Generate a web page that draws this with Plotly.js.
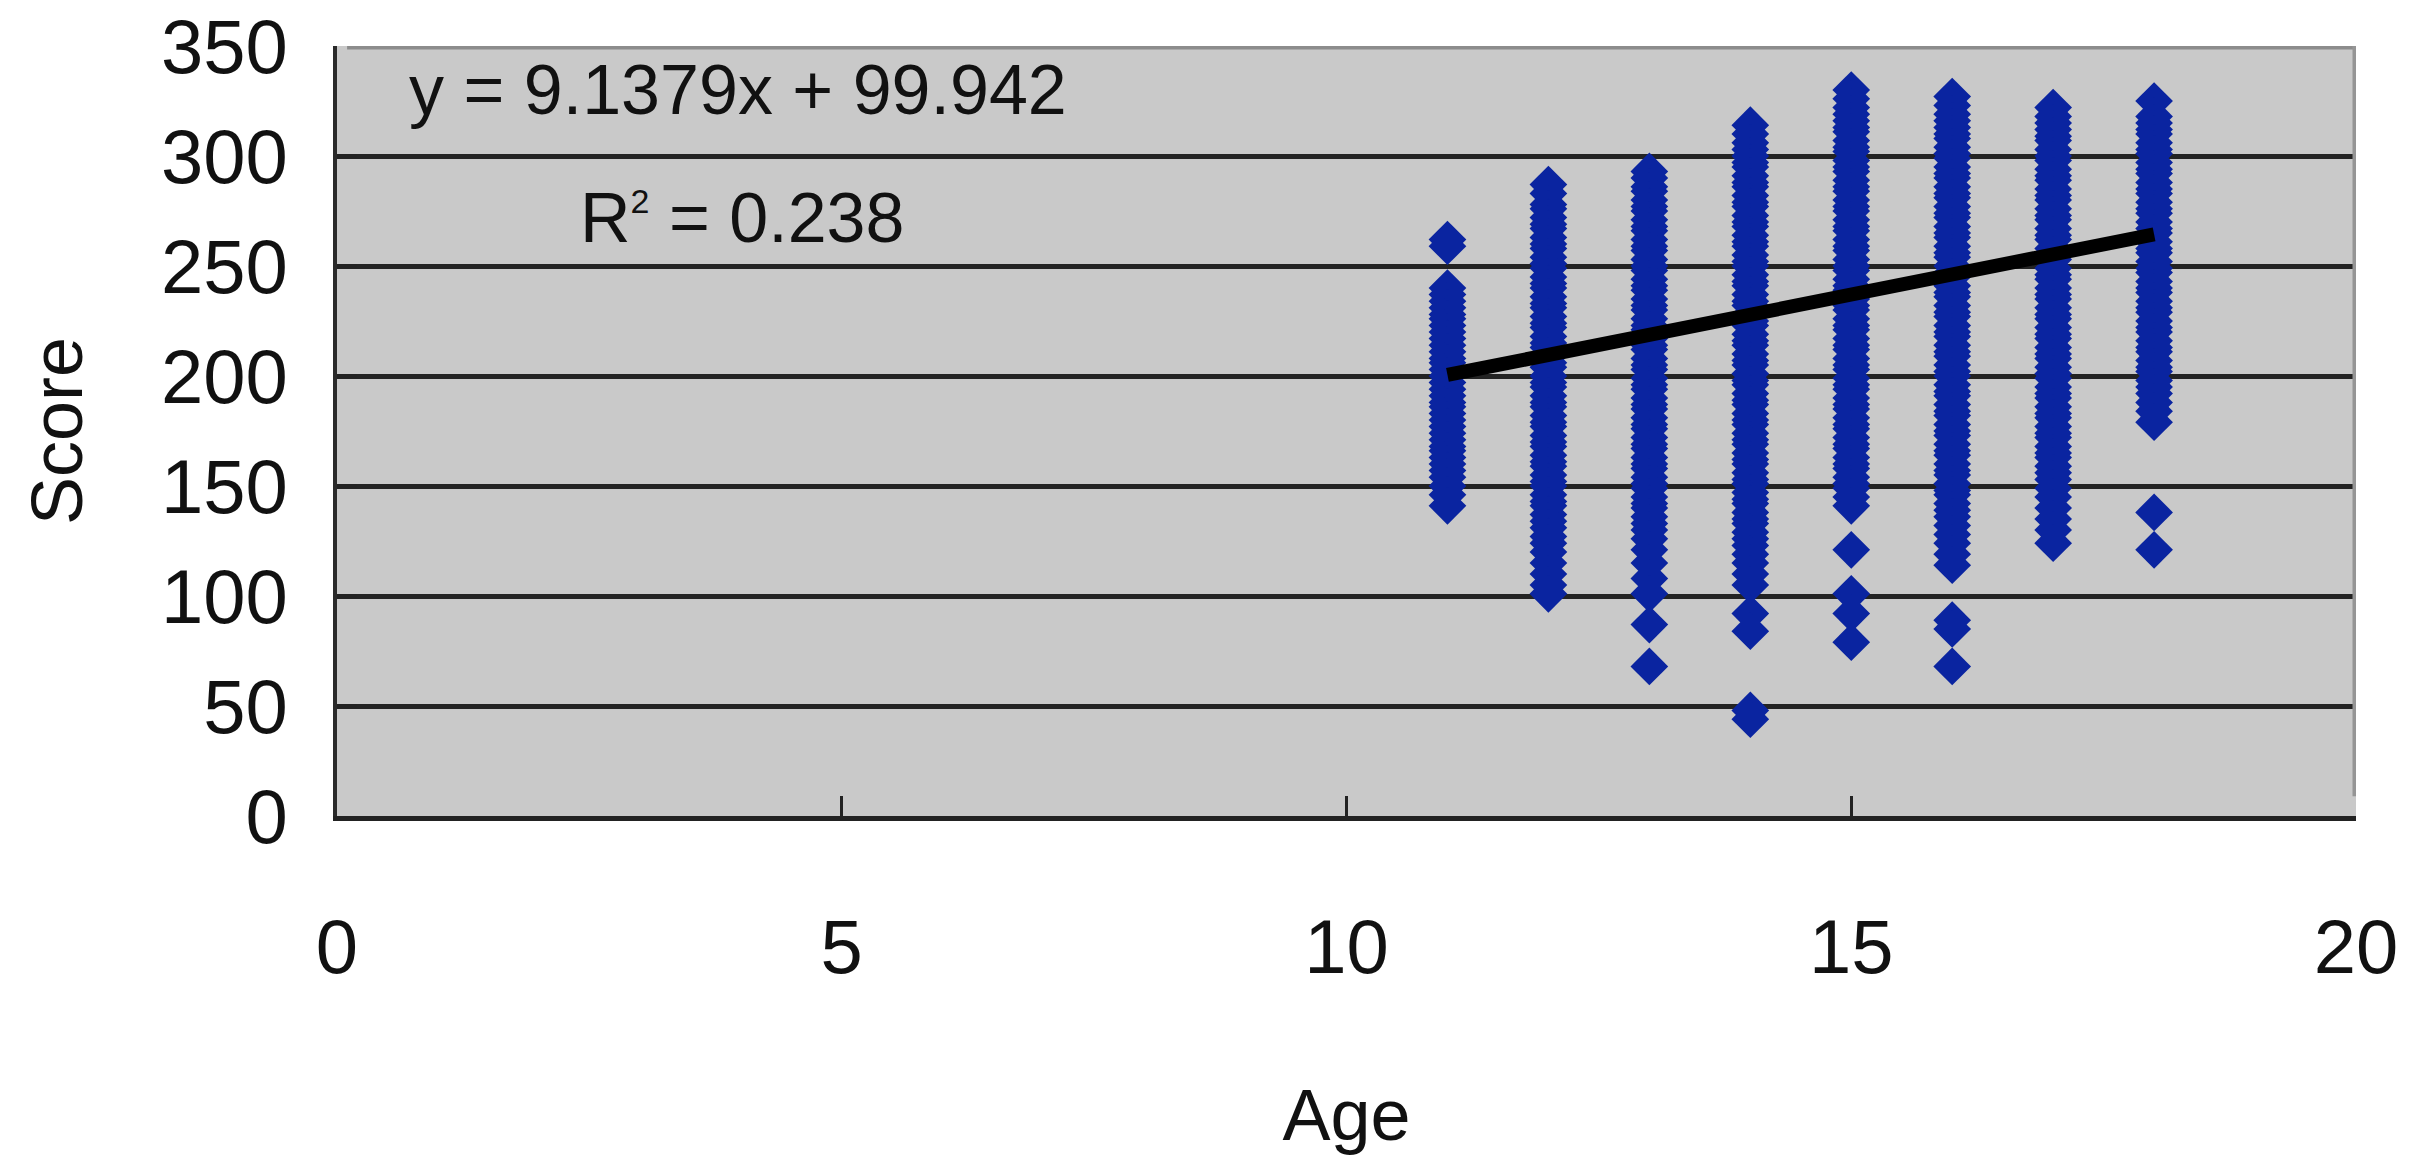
<!DOCTYPE html>
<html>
<head>
<meta charset="utf-8">
<script src="https://cdn.plot.ly/plotly-3.0.1.min.js"></script>
<style>
  html, body { margin: 0; padding: 0; background: #ffffff; }
  #chart { width: 2427px; height: 1160px; }
</style>
</head>
<body>
<div id="chart"></div>
<script>
// ---- Data ----
const ages = [11, 12, 13, 14, 15, 16, 17, 18];

const score_age11 = [262, 259, 240, 237, 234, 231, 228, 226, 223, 220, 217, 214, 211, 208, 206, 203, 200, 197, 194, 191, 188, 186, 183, 180, 177, 174, 171, 168, 166, 163, 160, 157, 154, 150, 146, 141];
const score_age12 = [287, 283, 278, 276, 272, 269, 267, 263, 260, 258, 254, 251, 249, 245, 242, 240, 236, 233, 231, 227, 224, 222, 218, 215, 213, 209, 206, 204, 200, 197, 195, 191, 188, 186, 182, 179, 177, 173, 170, 168, 164, 161, 159, 155, 152, 150, 146, 143, 141, 137, 134, 131, 127, 124, 120, 115, 110, 105, 101];
const score_age13 = [293, 290, 286, 284, 280, 277, 275, 271, 268, 266, 262, 259, 257, 253, 250, 248, 244, 241, 239, 235, 232, 230, 226, 223, 221, 217, 214, 212, 208, 205, 203, 199, 196, 194, 190, 187, 185, 181, 178, 176, 172, 169, 167, 163, 160, 158, 154, 151, 149, 145, 142, 140, 136, 133, 130, 126, 121, 115, 108, 101, 87, 68];
const score_age14 = [314, 310, 306, 303, 300, 297, 295, 291, 288, 286, 282, 279, 277, 273, 270, 268, 264, 261, 259, 255, 252, 250, 246, 243, 241, 237, 234, 232, 228, 225, 223, 219, 216, 214, 210, 207, 205, 201, 198, 196, 192, 189, 187, 183, 180, 178, 174, 171, 169, 165, 162, 160, 156, 153, 151, 147, 144, 142, 138, 135, 133, 129, 126, 123, 119, 115, 110, 105, 92, 84, 48, 44];
const score_age15 = [330, 326, 322, 319, 316, 313, 311, 307, 304, 302, 298, 295, 293, 289, 286, 284, 280, 277, 275, 271, 268, 266, 262, 259, 257, 253, 250, 248, 244, 241, 239, 235, 232, 230, 226, 223, 221, 217, 214, 212, 208, 205, 203, 199, 196, 194, 190, 187, 185, 181, 178, 176, 172, 169, 167, 163, 160, 158, 154, 151, 149, 145, 141, 121, 101, 92, 79];
const score_age16 = [327, 323, 319, 316, 313, 310, 308, 304, 301, 299, 295, 292, 290, 286, 283, 281, 277, 274, 272, 268, 265, 263, 259, 256, 254, 250, 247, 245, 241, 238, 236, 232, 229, 227, 223, 220, 218, 214, 211, 209, 205, 202, 200, 196, 193, 191, 187, 184, 182, 178, 175, 173, 169, 166, 164, 160, 157, 155, 151, 148, 146, 142, 139, 136, 132, 128, 124, 119, 114, 89, 85, 68];
const score_age17 = [322, 318, 315, 312, 309, 307, 303, 300, 298, 294, 291, 289, 285, 282, 280, 276, 273, 271, 267, 264, 262, 258, 255, 253, 249, 246, 244, 240, 237, 235, 231, 228, 226, 222, 219, 217, 213, 210, 208, 204, 201, 199, 195, 192, 190, 186, 183, 181, 177, 174, 172, 168, 165, 163, 159, 156, 153, 149, 145, 140, 135, 130, 124];
const score_age18 = [325, 318, 315, 312, 310, 306, 303, 301, 297, 294, 292, 288, 285, 283, 279, 276, 274, 270, 267, 265, 261, 258, 256, 252, 249, 247, 243, 240, 238, 234, 231, 229, 225, 222, 220, 216, 213, 211, 207, 204, 202, 198, 195, 192, 188, 184, 179, 138, 121];

// Linear trendline as printed on the chart
const trend_slope = 9.1379;
const trend_intercept = 99.942;
const trend_r2 = 0.238;
const trend_x = [11, 18];

// Axis tick labels
const x_ticks = [0, 5, 10, 15, 20];
const y_ticks = [0, 50, 100, 150, 200, 250, 300, 350];

// ---- Build traces ----
const scoreLists = [score_age11, score_age12, score_age13, score_age14, score_age15, score_age16, score_age17, score_age18];
const pointsX = [];
const pointsY = [];
scoreLists.forEach((list, i) => {
  list.forEach(v => { pointsX.push(ages[i]); pointsY.push(v); });
});

const FONT = '"Liberation Sans", Arial, Helvetica, sans-serif';

const scatter = {
  type: 'scatter',
  mode: 'markers',
  x: pointsX,
  y: pointsY,
  marker: { symbol: 'diamond', size: 29, color: '#0a24a0', line: { width: 0 } },
  hoverinfo: 'x+y',
  showlegend: false
};

const trend = {
  type: 'scatter',
  mode: 'lines',
  x: trend_x,
  y: trend_x.map(x => trend_slope * x + trend_intercept),
  line: { color: '#000000', width: 14 },
  hoverinfo: 'skip',
  showlegend: false
};

const layout = {
  width: 2427,
  height: 1160,
  margin: { l: 337, r: 71, t: 46, b: 344, pad: 0 },
  paper_bgcolor: '#ffffff',
  plot_bgcolor: '#c9c9c9',
  font: { family: FONT, color: '#111111', size: 72 },
  showlegend: false,
  xaxis: {
    range: [0, 20],
    tickmode: 'array',
    tickvals: x_ticks,
    ticktext: x_ticks.map(String),
    ticks: 'inside',
    ticklen: 20,
    tickwidth: 3,
    tickcolor: '#222222',
    showline: true,
    linecolor: '#222222',
    linewidth: 5,
    showgrid: false,
    zeroline: false,
    ticklabelstandoff: 61,
    tickfont: { family: FONT, size: 76, color: '#111111' },
    title: { text: 'Age', font: { family: FONT, size: 72, color: '#111111' }, standoff: 103 }
  },
  yaxis: {
    range: [0, 350],
    tickmode: 'array',
    tickvals: y_ticks,
    ticktext: y_ticks.map(String),
    ticks: 'inside',
    ticklen: 20,
    tickwidth: 4,
    tickcolor: '#222222',
    showline: true,
    linecolor: '#2a2a2a',
    linewidth: 4,
    showgrid: true,
    gridcolor: '#232323',
    gridwidth: 5,
    zeroline: false,
    ticklabelstandoff: 30,
    tickfont: { family: FONT, size: 76, color: '#111111' },
    title: { text: 'Score', font: { family: FONT, size: 72, color: '#111111' }, standoff: 56 }
  },
  shapes: [
    { type: 'line', xref: 'x', yref: 'y', x0: 0.1, x1: 20, y0: 350, y1: 350, layer: 'above',
      line: { color: '#8c8c8c', width: 7 } },
    { type: 'line', xref: 'x', yref: 'y', x0: 20, x1: 20, y0: 9, y1: 350, layer: 'above',
      line: { color: '#959595', width: 7 } }
  ],
  annotations: [
    { xref: 'x', yref: 'y', x: 0.69, y: 330, xanchor: 'left', yanchor: 'middle', showarrow: false,
      text: 'y = ' + trend_slope + 'x + ' + trend_intercept,
      font: { family: FONT, size: 70, color: '#111111' } },
    { xref: 'x', yref: 'y', x: 2.39, y: 272, xanchor: 'left', yanchor: 'middle', showarrow: false,
      text: 'R<sup><span style="font-size:34px">2</span></sup> = ' + trend_r2,
      font: { family: FONT, size: 70, color: '#111111' } }
  ]
};

Plotly.newPlot('chart', [scatter, trend], layout, { displayModeBar: false, responsive: false });
</script>
</body>
</html>
